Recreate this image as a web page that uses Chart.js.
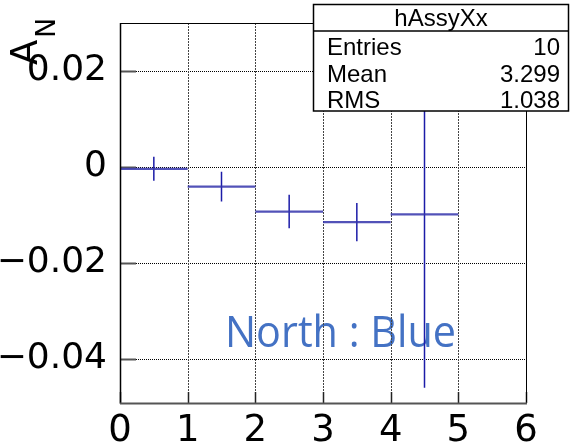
<!DOCTYPE html>
<html>
<head>
<meta charset="utf-8">
<script src="https://cdn.jsdelivr.net/npm/chart.js@4.4.0/dist/chart.umd.min.js"></script>
<style>
  html, body { margin: 0; padding: 0; background: #fff; }
  canvas { display: block; }
</style>
</head>
<body>
<canvas id="c" width="575" height="444"></canvas>
<script>
// Asymmetry A_N per bin (bins of width 1 from 0 to 5)
const binLow    = [0, 1, 2, 3, 4];
const binHigh   = [1, 2, 3, 4, 5];
const binCenter = [0.5, 1.5, 2.5, 3.5, 4.5];
const asymValue = [-0.0004, -0.0041, -0.0093, -0.0115, -0.0099];
const asymError = [0.0025, 0.0031, 0.0035, 0.0040, 0.0361];

const xTicks = [0, 1, 2, 3, 4, 5, 6];
const xTickLabels = ['0', '1', '2', '3', '4', '5', '6'];
const yTicks = [-0.04, -0.02, 0, 0.02];
const yTickLabels = ['\u22120.04', '\u22120.02', '0', '0.02'];

const statTitle = 'hAssyXx';
const statNames = ['Entries', 'Mean', 'RMS'];
const statValues = ['10', '3.299', '1.038'];
const noteText = 'North : Blue';

// Horizontal bin-width segments and vertical error segments (null breaks the line)
const hSegments = [];
const vSegments = [];
for (let i = 0; i < asymValue.length; i++) {
  hSegments.push({x: binLow[i], y: asymValue[i]}, {x: binHigh[i], y: asymValue[i]}, {x: binHigh[i], y: null});
  vSegments.push({x: binCenter[i], y: asymValue[i] - asymError[i]},
                 {x: binCenter[i], y: asymValue[i] + asymError[i]},
                 {x: binCenter[i], y: null});
}

function seg(ctx, x1, y1, x2, y2) {
  ctx.beginPath(); ctx.moveTo(x1, y1); ctx.lineTo(x2, y2); ctx.stroke();
}

const histFrame = {
  id: 'histFrame',
  beforeDatasetsDraw(chart) {
    const {ctx, chartArea: a, scales: {x, y}} = chart;
    ctx.save();
    // overlay label
    ctx.font = '43px "Open Sans"';
    ctx.fillStyle = '#4472C4';
    ctx.textAlign = 'left';
    ctx.textBaseline = 'alphabetic';
    ctx.fillText(noteText, 225, 347, 231);

    // dotted grid
    ctx.lineWidth = 1;
    ctx.strokeStyle = '#000';
    ctx.setLineDash([1, 1]);
    yTicks.forEach(v => {
      const py = Math.round(y.getPixelForValue(v)) + 0.5;
      seg(ctx, a.left, py, a.right, py);
    });
    ctx.strokeStyle = '#444';
    ctx.setLineDash([2, 1]);
    xTicks.forEach(v => {
      const px = Math.round(x.getPixelForValue(v)) + 0.5;
      seg(ctx, px, a.top, px, a.bottom);
    });
    ctx.setLineDash([]);

    // inward tick marks
    ctx.strokeStyle = '#555';
    ctx.lineWidth = 2;
    yTicks.forEach(v => {
      const py = Math.round(y.getPixelForValue(v)) + 0.5;
      seg(ctx, a.left, py, a.left + 16, py);
    });
    ctx.lineWidth = 1.5;
    ctx.strokeStyle = '#222';
    xTicks.forEach(v => {
      const px = Math.round(x.getPixelForValue(v)) + 0.5;
      seg(ctx, px, a.bottom, px, a.bottom - 11);
    });
    ctx.restore();
  },
  afterDatasetsDraw(chart) {
    const {ctx, chartArea: a} = chart;
    ctx.save();
    // frame
    ctx.strokeStyle = '#000';
    ctx.lineWidth = 1;
    seg(ctx, a.left, a.top + 0.5, a.right, a.top + 0.5);
    seg(ctx, a.right + 0.5, a.top, a.right + 0.5, a.bottom);
    ctx.lineWidth = 1.5;
    seg(ctx, a.left + 0.5, a.top, a.left + 0.5, a.bottom + 1);
    ctx.strokeStyle = '#555';
    ctx.lineWidth = 2;
    seg(ctx, a.left, a.bottom + 0.5, a.right + 1, a.bottom + 0.5);

    // statistics box
    const bx = 313.5, by = 4.5, bw = 255, bh = 106.5;
    ctx.fillStyle = '#fff';
    ctx.fillRect(bx, by, bw, bh);
    ctx.strokeStyle = '#000';
    ctx.lineWidth = 1.5;
    ctx.strokeRect(bx, by, bw, bh);
    seg(ctx, bx, 31, bx + bw, 31);
    ctx.fillStyle = '#000';
    ctx.font = '24px "Liberation Sans"';
    ctx.textBaseline = 'alphabetic';
    ctx.textAlign = 'center';
    ctx.fillText(statTitle, bx + bw / 2, 26);
    const rowBase = [55, 82, 108];
    statNames.forEach((n, i) => {
      ctx.textAlign = 'left';
      ctx.fillText(n, 327, rowBase[i]);
      ctx.textAlign = 'right';
      ctx.fillText(statValues[i], 560, rowBase[i]);
    });

    // y-axis title A_N, rotated
    ctx.translate(37, 65);
    ctx.rotate(-Math.PI / 2);
    ctx.textAlign = 'left';
    ctx.font = '37px "DejaVu Sans"';
    ctx.fillText('A', 0, 0);
    ctx.font = '27px "DejaVu Sans"';
    ctx.fillText('N', 27, 18);
    ctx.restore();
  }
};

new Chart(document.getElementById('c'), {
  type: 'scatter',
  data: {
    datasets: [
      {
        data: hSegments,
        showLine: true,
        spanGaps: false,
        borderColor: 'rgba(52,52,172,0.85)',
        borderWidth: 2.2,
        pointRadius: 0,
        pointHoverRadius: 0
      },
      {
        data: vSegments,
        showLine: true,
        spanGaps: false,
        borderColor: '#1c1ca8',
        borderWidth: 1.5,
        pointRadius: 0,
        pointHoverRadius: 0
      }
    ]
  },
  options: {
    responsive: false,
    animation: false,
    devicePixelRatio: 1,
    layout: { padding: { top: 21, right: 49, left: 0, bottom: 0 } },
    plugins: { legend: { display: false }, tooltip: { enabled: false } },
    scales: {
      x: {
        type: 'linear',
        min: 0, max: 6,
        afterBuildTicks: s => { s.ticks = xTicks.map(v => ({value: v})); },
        afterFit: s => { s.height = 41; },
        grid: { display: false },
        border: { display: false },
        ticks: {
          callback: (v, i) => xTickLabels[i],
          font: { family: 'DejaVu Sans', size: 37, lineHeight: 1 },
          color: '#000',
          padding: 2,
          maxRotation: 0,
          autoSkip: false
        }
      },
      y: {
        type: 'linear',
        min: -0.0492, max: 0.030,
        afterBuildTicks: s => { s.ticks = yTicks.map(v => ({value: v})); },
        afterFit: s => { s.width = 120; },
        grid: { display: false },
        border: { display: false },
        ticks: {
          callback: (v, i) => yTickLabels[i],
          font: { family: 'DejaVu Sans', size: 36, lineHeight: 1 },
          color: '#000',
          padding: 5,
          autoSkip: false
        }
      }
    }
  },
  plugins: [histFrame]
});
</script>
</body>
</html>
